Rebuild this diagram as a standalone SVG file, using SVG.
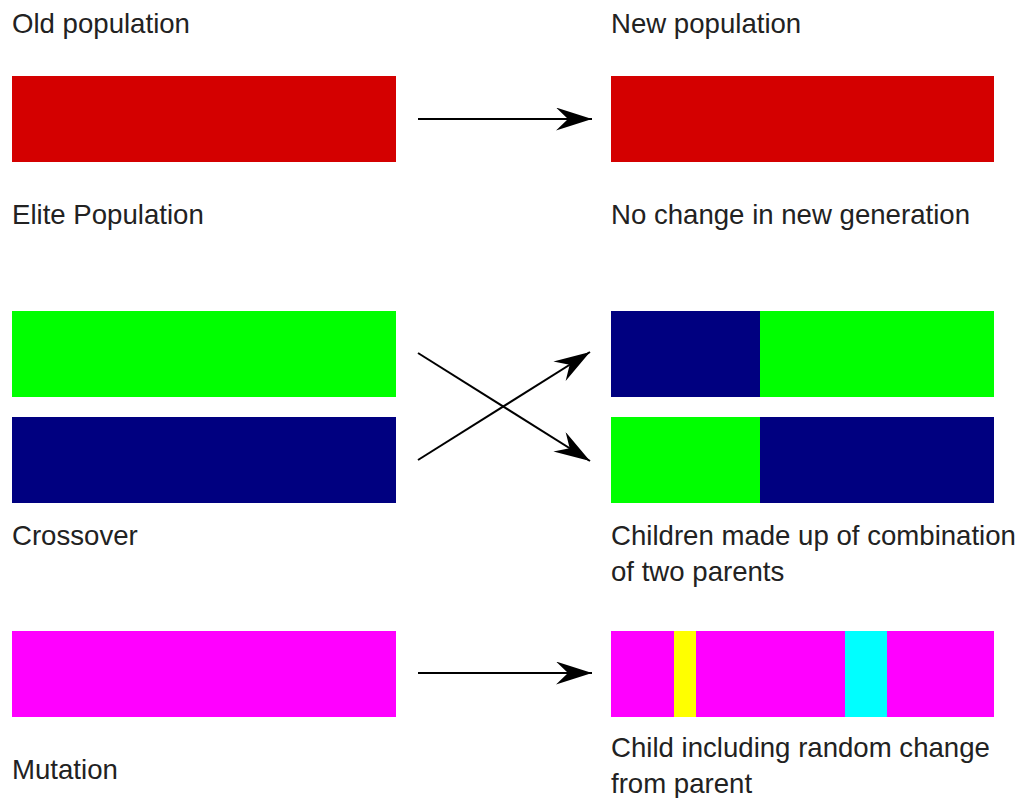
<svg xmlns="http://www.w3.org/2000/svg" width="1023" height="798" viewBox="0 0 1023 798">
<style>
text{font-family:"Liberation Sans",Arial,sans-serif;font-size:27.6px;fill:#222}
.c{stroke:#000;stroke-width:2;fill:none;marker-end:url(#ah)}
</style>
<defs>
<marker id="ah" markerUnits="userSpaceOnUse" markerWidth="38" markerHeight="24" refX="36" refY="11.5" orient="auto">
<path d="M0,0 L36,11.5 L0,23 L12,11.5 Z" fill="#000"/>
</marker>
</defs>
<rect width="1023" height="798" fill="#fff"/>
<text x="12" y="33">Old population</text>
<text x="611" y="33">New population</text>
<g id="old-elite"><rect x="12" y="76" width="384" height="86" fill="#d40000"/></g>
<g id="new-elite"><rect x="611" y="76" width="383" height="86" fill="#d40000"/></g>
<text x="12" y="224">Elite Population</text>
<text x="611" y="224">No change in new generation</text>
<g id="parent-green"><rect x="12" y="311" width="384" height="86" fill="#00ff00"/></g>
<g id="parent-navy"><rect x="12" y="417" width="384" height="86" fill="#000080"/></g>
<g id="child1"><rect x="611" y="311" width="149" height="86" fill="#000080"/><rect x="760" y="311" width="234" height="86" fill="#00ff00"/></g>
<g id="child2"><rect x="611" y="417" width="149" height="86" fill="#00ff00"/><rect x="760" y="417" width="234" height="86" fill="#000080"/></g>
<text x="12" y="545">Crossover</text>
<text x="611" y="545">Children made up of combination</text>
<text x="611" y="581">of two parents</text>
<g id="parent-mut"><rect x="12" y="631" width="384" height="86" fill="#ff00ff"/></g>
<g id="child-mut"><rect x="611" y="631" width="383" height="86" fill="#ff00ff"/><rect x="674" y="631" width="22" height="86" fill="#ffff00"/><rect x="845" y="631" width="42" height="86" fill="#00ffff"/></g>
<text x="12" y="779">Mutation</text>
<text x="611" y="757">Child including random change</text>
<text x="611" y="793">from parent</text>
<g id="connectors">
<line class="c" x1="418" y1="119" x2="592" y2="119"/>
<line class="c" x1="418" y1="353" x2="590" y2="461"/>
<line class="c" x1="418" y1="460" x2="590" y2="352"/>
<line class="c" x1="418" y1="673" x2="592" y2="673"/>
</g>
</svg>
